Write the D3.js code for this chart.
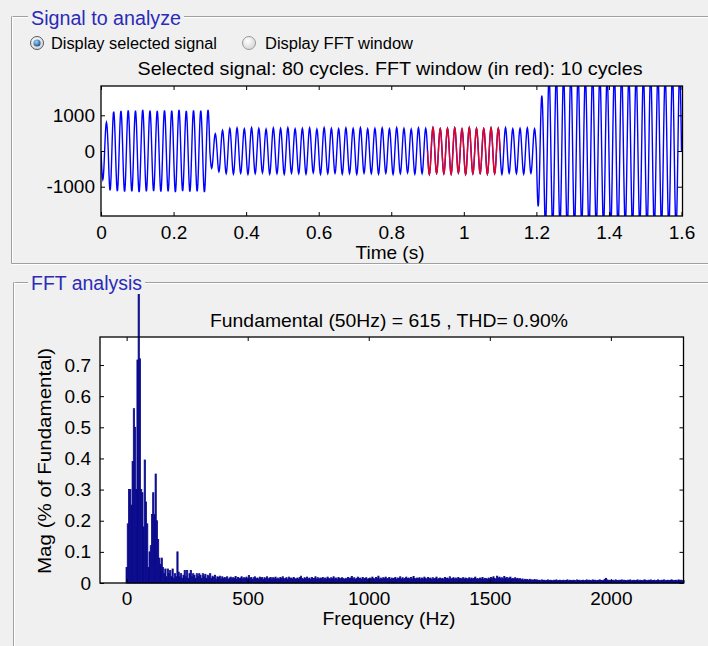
<!DOCTYPE html>
<html><head><meta charset="utf-8">
<script src="https://cdn.jsdelivr.net/npm/d3@7"></script>
<style>body{margin:0;background:#f0f0f0}svg{display:block}text{font-family:"Liberation Sans",Arial,sans-serif}</style>
</head><body><svg id="c" width="708" height="646"></svg>
<script>
// ---------- data ----------
const timeTicks=[0,0.2,0.4,0.6,0.8,1,1.2,1.4,1.6];
const signalTicks=[-1000,0,1000];
const freqTicks=[0,500,1000,1500,2000];
const magTicks=[0,0.1,0.2,0.3,0.4,0.5,0.6,0.7];
// one 50 Hz cycle, 20 samples (1 ms step), normalised
const cycleShape=[0,-0.309,-0.588,-0.809,-0.951,-1,-0.951,-0.809,-0.588,-0.309,0,0.309,0.588,0.809,0.951,1,0.951,0.809,0.588,0.309];
// peak amplitude of each of the 80 cycles
const cycleAmp=[800,
 1100,1120,1140,1130,1150,1130,1120,1140,1130,1150,1120,1140,1130,1150,
 480,580,
 630,640,620,650,630,610,640,630,650,620,
 630,640,610,650,630,620,640,630,650,620,
 630,640,620,650,630,610,640,630,650,620,
 630,640,610,650,630,620,640,630,650,620,
 630,640,620,
 1550,
 2100,2150,2100,2200,2150,2100,2200,2150,2100,2150,2200,2100,2150,2100,2200,2150,2100,2150,2200];
const fftWindow=[0.9,1.1];
// spectrum, % of fundamental, 0..400 Hz every 5 Hz
const magLow=[0.05,0.19,0.30,0.30,0.25,0.39,0.56,0.50,0.30,0.716,100,0.72,0.30,0.29,0.18,0.395,0.26,0.19,0.05,0.10,
 0.12,0.22,0.29,0.22,0.35,0.20,0.14,0.08,0.06,0.08,0.05,0.03,0.045,0.02,0.045,0.03,0.04,0.02,0.045,0.015,
 0.03,0.02,0.10,0.035,0.02,0.03,0.015,0.025,0.04,0.02,0.04,0.015,0.03,0.04,0.02,0.03,0.025,0.015,0.03,0.02,
 0.03,0.025,0.015,0.03,0.02,0.028,0.015,0.025,0.02,0.03,0.015,0.022,0.018,0.025,0.012,0.02,0.018,0.022,0.012,0.02,
 0.015];
// spectrum tail 405..2300 Hz every 5 Hz, in thousandths of %
const magTail=[
 18,14,20,12,16,19,13,17,15,21,12,18,14,16,20,13,17,15,19,14,
 24,15,18,12,17,20,14,16,13,19,15,18,12,17,14,20,13,16,18,12,
 17,14,19,13,16,12,18,15,20,13,14,17,12,19,15,16,13,18,14,12,
 16,13,18,22,15,12,17,14,19,13,16,12,18,15,14,20,13,17,12,16,
 14,18,12,16,13,19,15,12,17,14,20,13,16,12,18,15,13,17,14,12,
 15,12,18,14,16,21,13,17,12,15,19,14,16,12,18,13,15,17,12,14,
 16,13,19,15,12,18,14,22,13,16,12,17,15,19,13,14,18,12,16,13,
 15,18,12,16,14,20,13,17,12,15,19,14,16,12,18,13,21,15,12,16,
 14,17,12,16,13,19,15,12,18,14,16,12,17,13,15,19,12,14,16,13,
 15,12,18,14,16,13,20,12,15,17,13,16,12,18,14,15,12,17,13,16,
 14,12,17,13,16,12,15,19,13,14,12,16,13,18,12,15,14,12,16,13,
 18,14,20,15,12,22,16,19,14,17,13,21,15,18,12,16,19,13,15,12,
 17,13,15,11,14,10,13,9,12,10,11,8,12,9,10,8,11,9,10,8,
 9,7,10,8,9,7,8,10,7,9,8,7,9,8,10,7,8,9,7,8,
 9,7,8,10,7,9,8,7,9,8,7,10,8,9,7,8,9,7,8,10,
 7,9,8,7,10,8,9,7,8,9,10,8,7,9,12,15,10,8,9,7,
 8,9,7,10,8,7,9,8,10,7,9,8,7,9,8,10,7,8,9,7,
 8,10,7,9,8,7,9,10,8,7,9,8,10,7,8,9,7,8,10,8,
 7,9,8,10,7,8,9,7,8,10,9,7,8,9,7,10,8,9,7,8];
const titleTop="Selected signal: 80 cycles. FFT window (in red): 10 cycles";
const fundamental=615, thd="0.90%";

// ---------- build ----------
const svg=d3.select("#c");
const AX_FONT=19;
const navy="#0a0a8c";

// group boxes (etched lines)
function hline(x1,x2,y){svg.append("line").attr("x1",x1).attr("x2",x2).attr("y1",y+1).attr("y2",y+1).attr("stroke","#fff");
 svg.append("line").attr("x1",x1).attr("x2",x2).attr("y1",y).attr("y2",y).attr("stroke","#a0a0a0");}
function vline(x,y1,y2){svg.append("line").attr("x1",x+1).attr("x2",x+1).attr("y1",y1).attr("y2",y2).attr("stroke","#fff");
 svg.append("line").attr("x1",x).attr("x2",x).attr("y1",y1).attr("y2",y2).attr("stroke","#a0a0a0");}
hline(11.5,708,16.5); vline(11.5,16.5,263.5); hline(11.5,708,263.5);
hline(13.5,708,282.5); vline(13.5,282.5,646);

function groupTitle(x,y,w,s){
 svg.append("rect").attr("x",x-3).attr("y",y-17).attr("width",w+6).attr("height",21).attr("fill","#f0f0f0");
 svg.append("text").attr("x",x).attr("y",y).attr("font-size",19.5).attr("fill","#2b2bb8")
  .attr("textLength",w).attr("lengthAdjust","spacingAndGlyphs").text(s);
}
groupTitle(31,24.5,150,"Signal to analyze");

// radio buttons
const defs=svg.append("defs");
const g1=defs.append("radialGradient").attr("id","rOff").attr("cx","40%").attr("cy","35%").attr("r","70%");
g1.append("stop").attr("offset","0%").attr("stop-color","#ffffff");
g1.append("stop").attr("offset","100%").attr("stop-color","#d4d4d4");
const g2=defs.append("radialGradient").attr("id","rOn").attr("cx","40%").attr("cy","35%").attr("r","70%");
g2.append("stop").attr("offset","0%").attr("stop-color","#9fd6ff");
g2.append("stop").attr("offset","100%").attr("stop-color","#0f4a86");
svg.append("circle").attr("cx",37).attr("cy",43).attr("r",6.5).attr("fill","url(#rOff)").attr("stroke","#4f5a66");
svg.append("circle").attr("cx",37).attr("cy",43).attr("r",3.6).attr("fill","url(#rOn)");
svg.append("circle").attr("cx",249).attr("cy",43).attr("r",6.5).attr("fill","url(#rOff)").attr("stroke","#9a9a9a");
svg.append("text").attr("x",51).attr("y",48.5).attr("font-size",16).attr("textLength",166).attr("lengthAdjust","spacingAndGlyphs").text("Display selected signal");
svg.append("text").attr("x",265).attr("y",48.5).attr("font-size",16).attr("textLength",148).attr("lengthAdjust","spacingAndGlyphs").text("Display FFT window");

function centered(x,y,s,w){svg.append("text").attr("x",x).attr("y",y).attr("text-anchor","middle").attr("font-size",AX_FONT)
 .attr("textLength",w).attr("lengthAdjust","spacingAndGlyphs").text(s);}

function styleAxis(g,withText){
 g.select(".domain").remove();
 g.selectAll(".tick line").attr("stroke","#000");
 g.selectAll(".tick text").attr("font-size",AX_FONT).attr("fill","#000").attr("font-family","Liberation Sans, Arial, sans-serif");
 if(!withText) g.selectAll(".tick text").remove();
}

// ---------- top: signal ----------
const xT=d3.scaleLinear().domain([0,1.6]).range([101,681.5]);
const yT=d3.scaleLinear().domain([-1820,1820]).range([216,86]);
centered(390,75,titleTop,505);
svg.append("rect").attr("x",101).attr("y",86).attr("width",581.5).attr("height",130).attr("fill","#fff");
defs.append("clipPath").attr("id","clipT").append("rect").attr("x",101).attr("y",86).attr("width",581.5).attr("height",130);
const samples=[];
cycleAmp.forEach((a,k)=>cycleShape.forEach((s,j)=>samples.push({t:(k*cycleShape.length+j)/(cycleShape.length*50),v:a*s})));
samples.push({t:1.6,v:0});
const line=d3.line().x(d=>xT(d.t)).y(d=>yT(d.v));
const gT=svg.append("g").attr("clip-path","url(#clipT)");
gT.append("path").attr("d",line(samples)).attr("fill","none").attr("stroke","#0000ff").attr("stroke-width",1.4);
gT.append("path").attr("d",line(samples.filter(d=>d.t>=fftWindow[0]-1e-9&&d.t<=fftWindow[1]+1e-9)))
  .attr("fill","none").attr("stroke","#e8001c").attr("stroke-width",1.4);
const fmt=d=>String(d);
styleAxis(svg.append("g").attr("transform","translate(0,216)").call(d3.axisBottom(xT).tickValues(timeTicks).tickFormat(fmt).tickSizeInner(-4).tickSizeOuter(0).tickPadding(10)),true);
styleAxis(svg.append("g").attr("transform","translate(0,86)").call(d3.axisTop(xT).tickValues(timeTicks).tickSizeInner(-4).tickSizeOuter(0)),false);
styleAxis(svg.append("g").attr("transform","translate(101,0)").call(d3.axisLeft(yT).tickValues(signalTicks).tickFormat(fmt).tickSizeInner(-4).tickSizeOuter(0).tickPadding(6)),true);
styleAxis(svg.append("g").attr("transform","translate(682,0)").call(d3.axisRight(yT).tickValues(signalTicks).tickSizeInner(-4).tickSizeOuter(0)),false);
svg.append("rect").attr("x",101).attr("y",86).attr("width",581.5).attr("height",130).attr("fill","none").attr("stroke","#000").attr("stroke-width",1.3);
centered(390,258.5,"Time (s)",69);

// ---------- bottom: FFT ----------
const xB=d3.scaleLinear().domain([-110,2300]).range([100,683.5]);
const yB=d3.scaleLinear().domain([0,0.79]).range([583,337]);
centered(389,326.5,"Fundamental (50Hz) = "+fundamental+" , THD= "+thd,358);
svg.append("rect").attr("x",100).attr("y",337).attr("width",583.5).attr("height",246).attr("fill","#fff");
const spectrum=magLow.map((v,i)=>({f:i*5,v})).concat(magTail.map((v,i)=>({f:magLow.length*5+i*5,v:v/1000})));
const bw=xB(5)-xB(0);
defs.append("clipPath").attr("id","clipB").append("rect").attr("x",0).attr("y",283).attr("width",708).attr("height",301);
svg.append("g").attr("clip-path","url(#clipB)").selectAll("rect").data(spectrum).join("rect")
 .attr("x",d=>xB(d.f)-bw/2).attr("width",bw).attr("y",d=>yB(d.v)).attr("height",d=>yB(0)-yB(d.v))
 .attr("fill",navy).attr("stroke",navy).attr("stroke-width",0.8);
styleAxis(svg.append("g").attr("transform","translate(0,583)").call(d3.axisBottom(xB).tickValues(freqTicks).tickFormat(fmt).tickSizeInner(-4).tickSizeOuter(0).tickPadding(9)),true);
styleAxis(svg.append("g").attr("transform","translate(0,337)").call(d3.axisTop(xB).tickValues(freqTicks).tickSizeInner(-4).tickSizeOuter(0)),false);
styleAxis(svg.append("g").attr("transform","translate(100,0)").call(d3.axisLeft(yB).tickValues(magTicks).tickFormat(fmt).tickSizeInner(-4).tickSizeOuter(0).tickPadding(9)),true);
styleAxis(svg.append("g").attr("transform","translate(683.5,0)").call(d3.axisRight(yB).tickValues(magTicks).tickSizeInner(-4).tickSizeOuter(0)),false);
svg.append("rect").attr("x",100).attr("y",337).attr("width",583.5).attr("height",246).attr("fill","none").attr("stroke","#000").attr("stroke-width",1.3);
centered(389,624.5,"Frequency (Hz)",133);
svg.append("text").attr("transform","translate(51,461) rotate(-90)").attr("text-anchor","middle").attr("font-size",AX_FONT)
 .attr("textLength",226).attr("lengthAdjust","spacingAndGlyphs").text("Mag (% of Fundamental)");
groupTitle(31,290,111,"FFT analysis");
</script></body></html>
